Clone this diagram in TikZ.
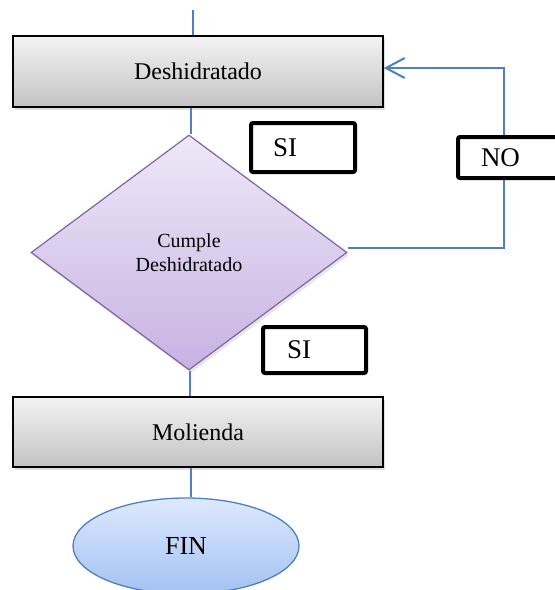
\documentclass[tikz,border=0pt]{standalone}
\usepackage{fontspec}
\setmainfont{Liberation Serif}
\usetikzlibrary{shapes.geometric,shadows,arrows.meta}
\definecolor{flowblue}{HTML}{4F81BD}
\definecolor{lilacline}{HTML}{8064A2}
\definecolor{lilactop}{HTML}{EEE8F7}
\definecolor{lilacbottom}{HTML}{C7B2E3}
\definecolor{skytop}{HTML}{DDE9FC}
\definecolor{skybottom}{HTML}{A3C1F3}
\definecolor{greytop}{HTML}{F3F3F3}
\definecolor{greybottom}{HTML}{C3C3C3}
\begin{document}
\begin{tikzpicture}[x=1pt,y=-1pt,
  flow/.style={draw=flowblue, line width=2pt},
  process/.style={draw=black, line width=1.3pt, rectangle,
    top color=greytop, bottom color=greybottom,
    minimum width=370pt, inner sep=0pt,
    drop shadow={shadow xshift=2pt, shadow yshift=-3pt, opacity=0.25},
    font=\fontsize{24}{28}\selectfont},
  decision/.style={draw=lilacline, line width=1.2pt, diamond, inner sep=0pt,
    minimum width=316pt, minimum height=235pt,
    top color=lilactop, bottom color=lilacbottom,
    drop shadow={shadow xshift=2pt, shadow yshift=-3pt, opacity=0.2},
    align=center, font=\fontsize{20}{24}\selectfont},
  terminal/.style={draw=flowblue, line width=1.3pt, ellipse, inner sep=0pt,
    minimum width=226pt, minimum height=96pt,
    top color=skytop, bottom color=skybottom,
    font=\fontsize{26}{30}\selectfont},
  tag/.style={draw=black, line width=4pt, rounded corners=2pt, fill=white,
    rectangle, align=left, inner ysep=0pt,
    font=\fontsize{27}{30}\selectfont}
]
\useasboundingbox (0,0) rectangle (555,590);

% process steps, decision and end
\node[process, minimum height=71pt] (dry) at (198,71.5) {Deshidratado};
\node[decision] (check) at (189,252.5) {Cumple\\Deshidratado};
\node[process, minimum height=70pt] (mill) at (198,432) {Molienda};
\node[terminal] (fin) at (186,546) {FIN};

% incoming line and the main vertical flow
\coordinate (entry) at (193,10);
\draw[flow] (entry) -- (entry |- dry.north);
\draw[flow] ([xshift=2pt]check.north |- dry.south) -- ([xshift=2pt]check.north);
\draw[flow] ([xshift=1pt]check.south) -- ([xshift=1pt]check.south |- mill.north);
\draw[flow] ([xshift=2pt]check.south |- mill.south) -- ([xshift=2pt]check.south |- fin.north);

% return path when the check fails
\coordinate (back) at (504,68);
\draw[flow, -{Straight Barb[length=19pt,width=20pt]}]
  ([yshift=5pt]check.east) -| (back) -- (back -| dry.east);

% branch labels
\node[tag, text width=60pt, inner xsep=22pt, minimum height=49pt] (yes1) at (303,147.5) {SI};
\node[tag, text width=56pt, inner xsep=23pt, minimum height=41pt] (no) at (509,157.5) {NO};
\node[tag, text width=55pt, inner xsep=24pt, minimum height=46pt] (yes2) at (314.5,350) {SI};
\end{tikzpicture}
\end{document}
